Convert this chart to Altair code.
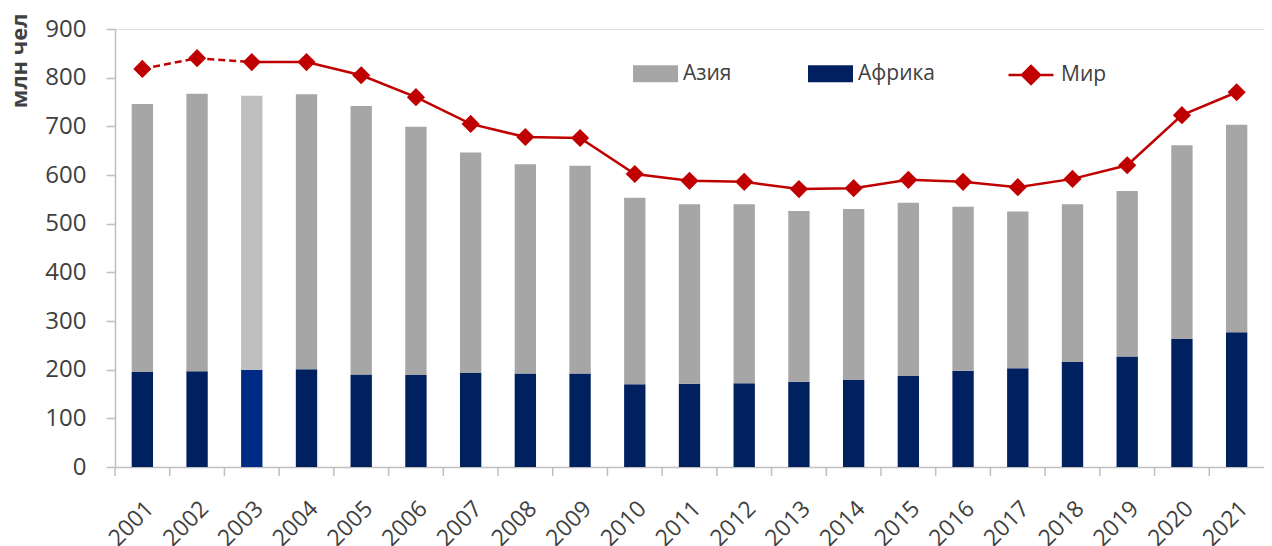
import altair as alt
import pandas as pd

years = [str(y) for y in range(2001, 2022)]
africa = [195, 197, 200, 201, 190, 189, 193, 192, 192, 170, 171, 172, 175, 179, 187, 198, 203, 216, 227, 263, 277]
asia = [551, 570, 563, 565, 552, 510, 453, 430, 427, 383, 369, 368, 351, 351, 356, 337, 322, 324, 340, 398, 426]
world = [818, 840, 832, 832, 805, 760, 705, 678, 676, 602, 588, 586, 571, 573, 590, 586, 575, 592, 620, 723, 770]
y_ticks = [0, 100, 200, 300, 400, 500, 600, 700, 800, 900]
highlight_year = "2003"
dashed_until = "2003"

FONT = "Open Sans"
LABEL = "#404040"
AXIS = "#bfbfbf"
RED = "#c00000"
H = 438

rows = []
for y, a, s in zip(years, africa, asia):
    suf = " " if y == highlight_year else ""
    rows.append({"year": y, "series": "Африка", "key": "Африка" + suf, "value": a, "ord": 0})
    rows.append({"year": y, "series": "Азия", "key": "Азия" + suf, "value": s, "ord": 1})
bars_df = pd.DataFrame(rows)

world_df = pd.DataFrame({"year": years, "value": world, "name": "Мир"})
k = years.index(dashed_until)
dash_df = world_df.iloc[: k + 1]
solid_df = world_df.iloc[k:]
ticks_df = pd.DataFrame({"year": years})

xscale = alt.Scale(domain=years, paddingInner=0, paddingOuter=0)
yscale = alt.Scale(domain=[0, 900], nice=False)

xaxis = alt.Axis(title=None, labelAngle=-45, labelFontSize=23, labelColor=LABEL,
                 labelFont=FONT, ticks=False, domainColor=AXIS, domainWidth=1.5,
                 labelPadding=30, orient="bottom", grid=False)
yaxis = alt.Axis(values=y_ticks, title="млн чел", tickSize=9, tickColor=AXIS, tickWidth=1.5,
                 domainColor=AXIS, domainWidth=1.5, labelFontSize=24, labelColor=LABEL,
                 labelFont=FONT, labelPadding=20, grid=False,
                 titleFont=FONT, titleFontSize=22, titleFontWeight="bold", titleColor=LABEL,
                 titleAnchor="end", titleAlign="right", titleX=-84, titleY=-16,
                 titleBaseline="bottom")


def X(**kw):
    return alt.X("year:N", scale=xscale, sort=years, axis=xaxis, title=None, **kw)


def Y(**kw):
    return alt.Y("value:Q", scale=yscale, axis=yaxis, title="млн чел", **kw)


rect_path = "M-1,-0.38H1V0.38H-1Z"
line_path = "M-1,0L1,0M0,-0.4L0.4,0L0,0.4L-0.4,0Z"

bars = alt.Chart(bars_df).mark_bar(width=alt.RelativeBandSize(0.39)).encode(
    x=X(),
    y=Y(stack="zero"),
    color=alt.Color("key:N",
                    scale=alt.Scale(domain=["Азия", "Африка", "Азия ", "Африка "],
                                    range=["#a6a6a6", "#002060", "#bfbfbf", "#002b84"]),
                    legend=alt.Legend(values=["Азия", "Африка"], orient="none", legendX=518, legendY=22,
                                      direction="horizontal", title=None, symbolType=rect_path,
                                      symbolSize=2025, symbolStrokeWidth=0, labelFontSize=21,
                                      labelFont=FONT, labelColor=LABEL, labelOffset=5,
                                      columnPadding=76)),
    order=alt.Order("ord:Q"),
)

xticks = alt.Chart(ticks_df).mark_rule(color=AXIS, strokeWidth=1.5).encode(
    x=X(bandPosition=0),
    y=alt.value(H),
    y2=alt.value(H + 9),
)

dashed = alt.Chart(dash_df).mark_line(strokeWidth=2.5, strokeDash=[7, 4]).encode(
    x=X(),
    y=Y(),
    stroke=alt.Stroke("name:N", scale=alt.Scale(domain=["Мир"], range=[RED]),
                      legend=alt.Legend(orient="none", legendX=892, legendY=22, title=None,
                                        symbolType=line_path, symbolSize=2025,
                                        symbolFillColor=RED, symbolStrokeWidth=2.5,
                                        labelFontSize=21, labelFont=FONT, labelColor=LABEL,
                                        labelOffset=6)),
)

solid = alt.Chart(solid_df).mark_line(strokeWidth=2.5).encode(
    x=X(),
    y=Y(),
    stroke=alt.Stroke("name:N", scale=alt.Scale(domain=["Мир"], range=[RED]), legend=None),
)

points = alt.Chart(world_df).mark_point(shape="diamond", filled=True, size=330, color=RED, opacity=1).encode(
    x=X(),
    y=Y(),
)

chart = alt.layer(bars, xticks, dashed, solid, points).properties(
    width=1149, height=H,
    autosize=alt.AutoSizeParams(type="none"),
    padding={"left": 107, "top": 21, "right": 0, "bottom": 95},
).configure_view(strokeWidth=0).configure(font=FONT)

chart.save("out.html", embed_options={"renderer": "svg", "actions": False})
